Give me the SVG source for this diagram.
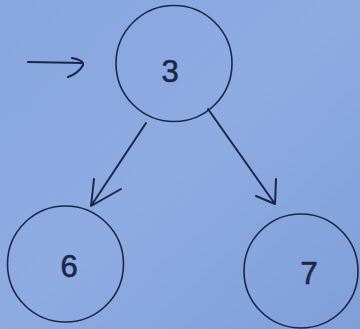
<svg xmlns="http://www.w3.org/2000/svg" width="360" height="329" viewBox="0 0 360 329">
  <defs>
    <linearGradient id="bg" x1="0" y1="0" x2="1" y2="1">
      <stop offset="0" stop-color="#88a6df"/>
      <stop offset="0.5" stop-color="#8eabe2"/>
      <stop offset="1" stop-color="#809fd9"/>
    </linearGradient>
    <style>
      .node { fill: none; stroke: #1b2747; stroke-width: 1.6; }
      .ink { fill: none; stroke: #1b2747; stroke-width: 2; stroke-linecap: round; stroke-linejoin: round; }
      .lbl { font-family: "Liberation Sans", "DejaVu Sans", sans-serif; font-size: 31px; fill: #1b2747; stroke: #1b2747; stroke-width: 0.6; text-anchor: middle; }
    </style>
  </defs>
  <rect width="360" height="329" fill="url(#bg)"/>
  <g id="connectors">
    <path class="ink" d="M28,62 L83,63 M72,58 Q84,60 83,65 Q79,73 68,77"/>
    <path class="ink" d="M146,123 L91,206 M94,179 L91,206 L121,189"/>
    <path class="ink" d="M208,109 L275,204 M276,179 L275,204 L256,196"/>
  </g>
  <g id="node3">
    <circle class="node" cx="174" cy="63.5" r="58"/>
    <text class="lbl" x="170" y="82">3</text>
  </g>
  <g id="node6">
    <circle class="node" cx="65.5" cy="264" r="58"/>
    <text class="lbl" x="69" y="277">6</text>
  </g>
  <g id="node7">
    <circle class="node" cx="301" cy="271" r="57"/>
    <text class="lbl" x="309" y="284">7</text>
  </g>
</svg>
